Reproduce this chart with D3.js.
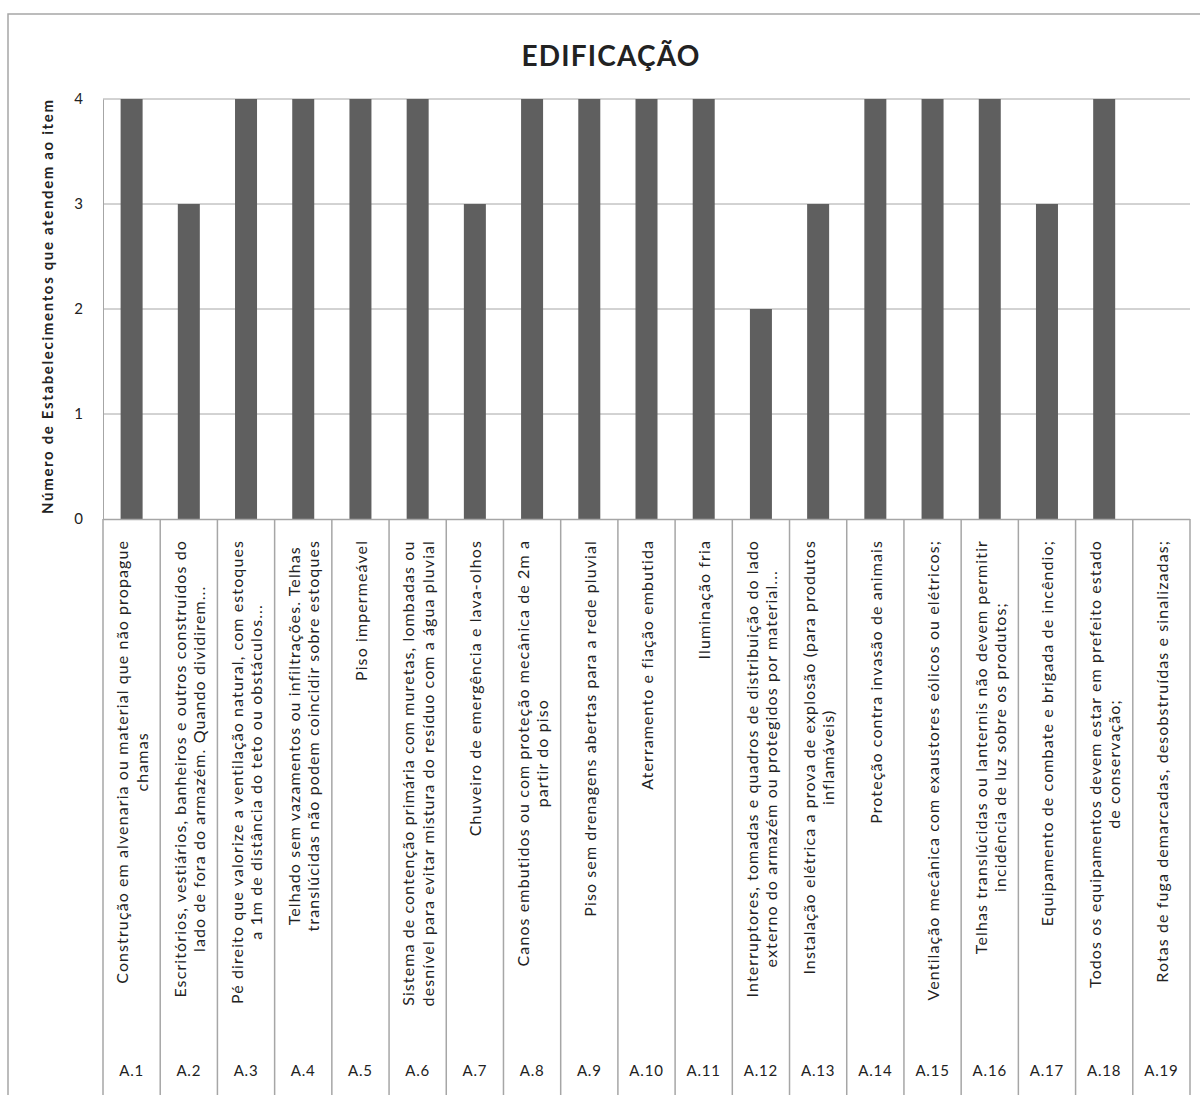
<!DOCTYPE html>
<html>
<head>
<meta charset="utf-8">
<script src="https://cdn.jsdelivr.net/npm/d3@7"></script>
<style>
  body { margin: 0; background: #fff; }
  svg text { font-family: Lato, "Open Sans", sans-serif; fill: #222; }
</style>
</head>
<body>
<svg id="chart" width="1200" height="1095"></svg>
<script>
// item codes and how many establishments meet each one
const codes = ['A.1', 'A.2', 'A.3', 'A.4', 'A.5', 'A.6', 'A.7', 'A.8', 'A.9', 'A.10',
  'A.11', 'A.12', 'A.13', 'A.14', 'A.15', 'A.16', 'A.17', 'A.18', 'A.19'];
const counts = [4, 3, 4, 4, 4, 4, 3, 4, 4, 4, 4, 2, 3, 4, 4, 4, 3, 4, 0];
const yTicks = [0, 1, 2, 3, 4];

// item descriptions, one array entry per wrapped line
const descriptions = [
  ['Construção em alvenaria ou material que não propague', 'chamas'],
  ['Escritórios, vestiários, banheiros e outros construídos do', 'lado de fora do armazém. Quando dividirem...'],
  ['Pé direito que valorize a ventilação natural, com estoques', 'a 1m de distância do teto ou obstáculos...'],
  ['Telhado sem vazamentos ou infiltrações. Telhas', 'translúcidas não podem coincidir sobre estoques'],
  ['Piso impermeável'],
  ['Sistema de contenção primária com muretas, lombadas ou', 'desnível para evitar mistura do resíduo com a água pluvial'],
  ['Chuveiro de emergência e lava-olhos'],
  ['Canos embutidos ou com proteção mecânica de 2m a', 'partir do piso'],
  ['Piso sem drenagens abertas para a rede pluvial'],
  ['Aterramento e fiação embutida'],
  ['Iluminação fria'],
  ['Interruptores, tomadas e quadros de distribuição do lado', 'externo do armazém  ou protegidos por material...'],
  ['Instalação elétrica a prova de explosão (para produtos', 'inflamáveis)'],
  ['Proteção contra invasão de animais'],
  ['Ventilação mecânica com exaustores eólicos ou elétricos;'],
  ['Telhas translúcidas ou lanternis não devem permitir', 'incidência de luz sobre os produtos;'],
  ['Equipamento de combate e brigada de incêndio;'],
  ['Todos os equipamentos devem estar em prefeito estado', 'de conservação;'],
  ['Rotas de fuga demarcadas, desobstruídas e sinalizadas;']
];

let svg = d3.select('#chart');
let width = +svg.attr('width');
let height = +svg.attr('height');
let margin = { top: 99, left: 103 };
let plotRight = 1190;
let plotBottom = 519;
let gridColor = '#a6a6a6';

// outer frame
svg.append('rect')
  .attr('x', 8).attr('y', 14)
  .attr('width', 1200).attr('height', 1200)
  .attr('fill', 'none')
  .attr('stroke', gridColor)
  .attr('stroke-width', 1.5);

// title
svg.append('text')
  .attr('x', 611).attr('y', 66)
  .attr('text-anchor', 'middle')
  .style('font-size', '28px')
  .style('font-weight', 'bold')
  .style('letter-spacing', '1.2px')
  .text('EDIFICAÇÃO');

let x = d3.scaleBand()
  .domain(codes)
  .range([margin.left, plotRight])
  .padding(0);

let y = d3.scaleLinear()
  .domain([0, 4])
  .range([plotBottom, margin.top]);

// gridlines
svg.append('g')
  .selectAll('line')
  .data(yTicks.slice(1))
  .enter()
  .append('line')
    .attr('x1', margin.left)
    .attr('x2', plotRight)
    .attr('y1', d => y(d))
    .attr('y2', d => y(d))
    .attr('stroke', gridColor)
    .attr('stroke-width', 1);

// y axis
let yAxis = svg.append('g')
  .attr('transform', `translate(${margin.left},0)`)
  .call(d3.axisLeft(y).tickValues(yTicks).tickSize(0).tickPadding(20).tickFormat(d3.format('d')));
yAxis.select('.domain').attr('stroke', gridColor);
yAxis.selectAll('text')
  .style('font-size', '15px')
  .style('font-family', 'Lato, sans-serif')
  .attr('fill', '#222');

// y axis title
svg.append('text')
  .attr('transform', `translate(53,${(margin.top + plotBottom) / 2 - 2}) rotate(-90)`)
  .attr('text-anchor', 'middle')
  .attr('textLength', 414)
  .attr('lengthAdjust', 'spacing')
  .style('font-size', '15px')
  .style('font-weight', 'bold')
  .text('Número de Estabelecimentos que atendem ao item');

// bars
let barWidth = 22;
svg.append('g')
  .selectAll('rect')
  .data(counts)
  .enter()
  .append('rect')
    .attr('x', (d, i) => x(codes[i]) + x.bandwidth() / 2 - barWidth / 2)
    .attr('y', d => y(d))
    .attr('width', barWidth)
    .attr('height', d => y(0) - y(d))
    .attr('fill', '#5f5f5f');

// data table under the axis: column borders
let table = svg.append('g');
table.append('line')
  .attr('x1', margin.left).attr('x2', plotRight)
  .attr('y1', plotBottom + 0.5).attr('y2', plotBottom + 0.5)
  .attr('stroke', gridColor).attr('stroke-width', 1.5);

let borders = codes.map(c => x(c)).concat([plotRight]);
table.selectAll('.border')
  .data(borders)
  .enter()
  .append('line')
    .attr('class', 'border')
    .attr('x1', d => d).attr('x2', d => d)
    .attr('y1', plotBottom).attr('y2', height)
    .attr('stroke', gridColor)
    .attr('stroke-width', 1.5);

// rotated descriptions: block top sits at labelTop, lines centered in the block
let labelTop = 540;
let lineGap = 19.5;
descriptions.forEach((lines, i) => {
  let cx = x(codes[i]) + x.bandwidth() / 2;
  let g = table.append('g');
  let texts = lines.map((line, j) => g.append('text')
    .attr('text-anchor', 'middle')
    .attr('dominant-baseline', 'central')
    .style('font-size', '16px')
    .style('letter-spacing', '1.1px')
    .text(line));
  let maxW = d3.max(texts, t => t.node().getComputedTextLength());
  let cy = labelTop + maxW / 2;
  texts.forEach((t, j) => {
    let offset = (j - (lines.length - 1) / 2) * lineGap;
    t.attr('transform', `translate(${cx + offset},${cy}) rotate(-90)`);
  });
});

// item codes
table.selectAll('.code')
  .data(codes)
  .enter()
  .append('text')
    .attr('class', 'code')
    .attr('x', d => x(d) + x.bandwidth() / 2)
    .attr('y', 1076)
    .attr('text-anchor', 'middle')
    .style('font-size', '15px')
    .style('letter-spacing', '0.8px')
    .text(d => d);
</script>
</body>
</html>
